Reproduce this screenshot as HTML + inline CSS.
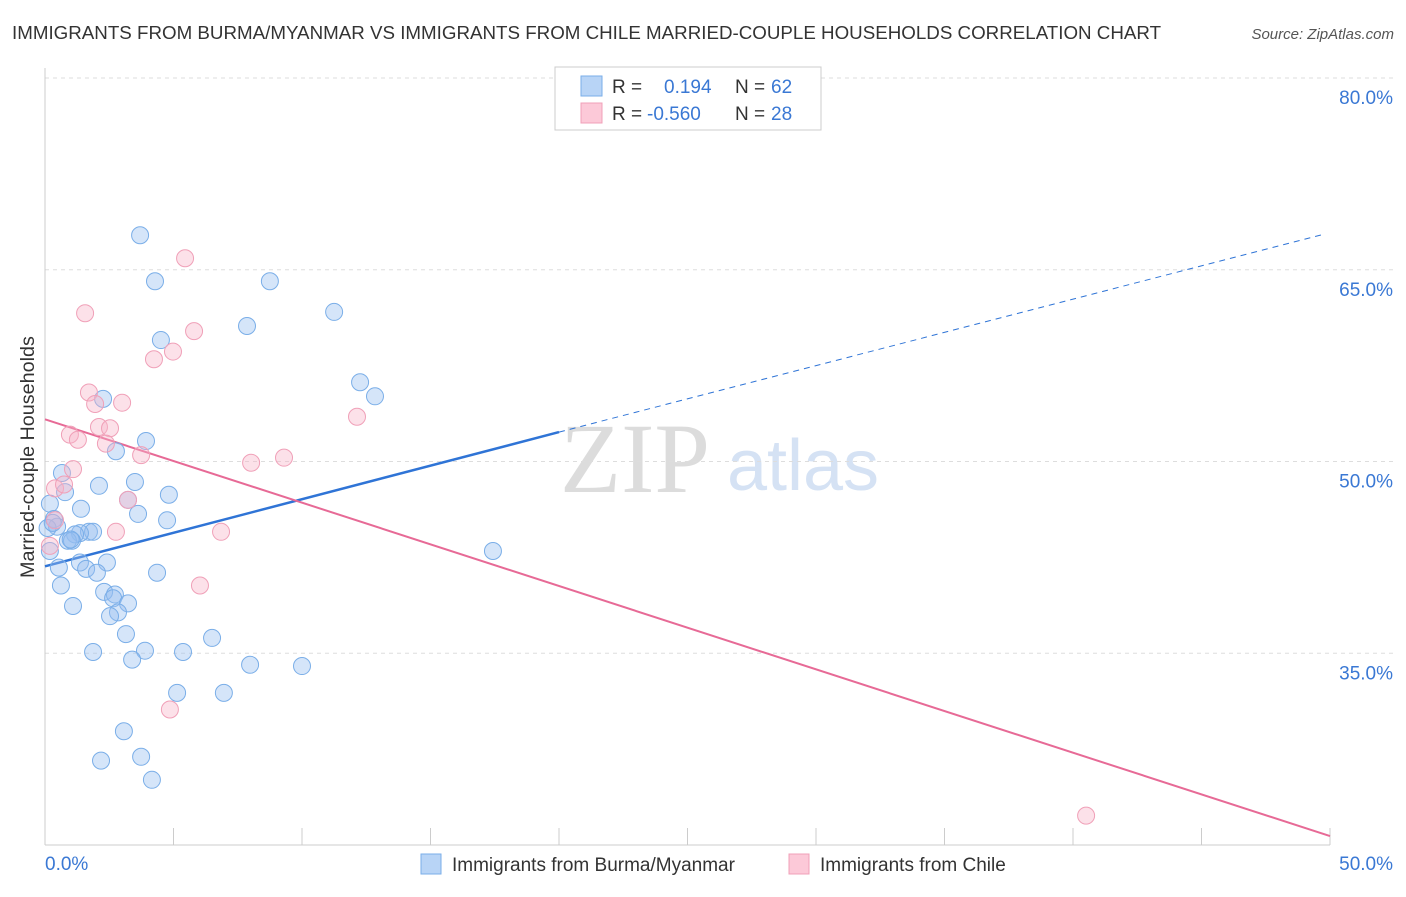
<!DOCTYPE html>
<html><head><meta charset="utf-8"><style>
body{margin:0;background:#fff;font-family:"Liberation Sans",sans-serif;}
svg text{font-family:"Liberation Sans",sans-serif;}
</style></head><body>
<svg id="chart" width="1406" height="892">
<text x="12" y="39" font-size="18.75" fill="#333">IMMIGRANTS FROM BURMA/MYANMAR VS IMMIGRANTS FROM CHILE MARRIED-COUPLE HOUSEHOLDS CORRELATION CHART</text>
<text x="1394" y="39" font-size="15" fill="#555" font-style="italic" text-anchor="end">Source: ZipAtlas.com</text>
<text x="34" y="457" font-size="19.8" fill="#333" text-anchor="middle" transform="rotate(-90 34 457)">Married-couple Households</text>
<g>
<text x="635" y="492" font-size="100" fill="#dcdcdc" text-anchor="middle" style="font-family:'Liberation Serif',serif">ZIP</text>
<text x="803" y="490" font-size="72" fill="#d5e2f4" text-anchor="middle">atlas</text>
</g>
<g id="grid"></g><g id="axes"></g><g id="lines"></g><g id="pts"></g>
<g>
<rect x="555" y="67" width="266" height="63" fill="#fff" stroke="#ccc"/>
<rect x="581" y="76" width="21" height="20" fill="#b8d4f6" stroke="#7aaee8"/>
<rect x="581" y="103" width="21" height="20" fill="#fcc9d8" stroke="#f0a0b8"/>
<text x="612" y="93" font-size="19" fill="#333">R =</text><text x="664" y="93" font-size="19" fill="#3a78d4">0.194</text>
<text x="735" y="93" font-size="19" fill="#333">N =</text><text x="771" y="93" font-size="19" fill="#3a78d4">62</text>
<text x="612" y="120" font-size="19" fill="#333">R =</text><text x="647" y="120" font-size="19" fill="#3a78d4">-0.560</text>
<text x="735" y="120" font-size="19" fill="#333">N =</text><text x="771" y="120" font-size="19" fill="#3a78d4">28</text>
</g>
<g>
<rect x="421" y="854" width="20" height="20" fill="#b8d4f6" stroke="#7aaee8"/>
<text x="452" y="871" font-size="19" fill="#333">Immigrants from Burma/Myanmar</text>
<rect x="789" y="854" width="20" height="20" fill="#fcc9d8" stroke="#f0a0b8"/>
<text x="820" y="871" font-size="19" fill="#333">Immigrants from Chile</text>
</g>
</svg>
<script>
const yTicks=[35,50,65,80];
const xTickLabels=["0.0%","50.0%"];
const burmaX=[3.70,4.28,8.75,11.25,7.86,4.51,12.26,12.84,2.26,3.93,2.76,0.66,0.78,2.10,3.50,4.82,3.23,0.19,1.40,3.62,4.75,0.35,0.47,1.71,1.87,1.36,1.17,0.89,1.05,0.19,17.43,1.36,2.41,0.54,1.60,2.02,4.36,0.62,2.30,2.72,2.65,3.23,1.09,2.84,2.53,3.15,6.50,1.87,3.89,5.37,3.39,7.98,10.0,5.14,6.96,3.07,2.18,3.74,4.16,0.10,0.30,1.00];
const burmaY=[67.7,64.1,64.1,61.7,60.6,59.5,56.2,55.1,54.9,51.6,50.8,49.1,47.6,48.1,48.4,47.4,47.0,46.7,46.3,45.9,45.4,45.5,44.9,44.5,44.5,44.4,44.3,43.8,43.8,43.0,43.0,42.1,42.1,41.7,41.6,41.3,41.3,40.3,39.8,39.6,39.3,38.9,38.7,38.2,37.9,36.5,36.2,35.1,35.2,35.1,34.5,34.1,34.0,31.9,31.9,28.9,26.6,26.9,25.1,44.8,45.2,43.9];
const chileX=[5.45,1.56,5.80,4.98,4.24,1.71,1.95,3.00,12.14,0.97,2.10,2.53,1.28,2.37,1.09,3.74,9.30,8.02,0.39,0.74,3.23,2.76,6.85,0.19,6.03,4.86,40.51,0.39];
const chileY=[65.9,61.6,60.2,58.6,58.0,55.4,54.5,54.6,53.5,52.1,52.7,52.6,51.7,51.4,49.4,50.5,50.3,49.9,47.9,48.2,47.0,44.5,44.5,43.4,40.3,30.6,22.3,45.4];
const burmaTrendX=[0,20,49.8];
const burmaTrendY=[41.8,52.3,67.8];
const chileTrendX=[0,50];
const chileTrendY=[53.3,20.7];
const X0=45,X1=1330,Y80=78,Y20=845;
const sx=v=>X0+(X1-X0)*v/50;
const sy=v=>Y20-(Y20-Y80)*(v-20)/60;
const NS="http://www.w3.org/2000/svg";
function mk(tag,attrs,parent){const e=document.createElementNS(NS,tag);for(const k in attrs)e.setAttribute(k,attrs[k]);document.getElementById(parent).appendChild(e);return e;}
yTicks.forEach(t=>{
 const g=mk("line",{x1:X0,x2:1394,y1:sy(t),y2:sy(t),stroke:"#ddd","stroke-dasharray":"4,4"},"grid");
 
 
 const l=mk("text",{x:1393,y:sy(t)+26,"font-size":19,fill:"#3a78d4","text-anchor":"end"},"grid");
 l.textContent=t.toFixed(1)+"%";
 
 
});
mk("line",{x1:X0,x2:X0,y1:68,y2:Y20,stroke:"#ccc"},"axes");
mk("line",{x1:X0,x2:X1,y1:Y20,y2:Y20,stroke:"#ccc"},"axes");
for(let i=1;i<=10;i++){const x=sx(i*5);const t=mk("line",{x1:x,x2:x,y1:828,y2:Y20,stroke:"#ccc"},"axes");}
const xl0=mk("text",{x:45,y:870,"font-size":19,fill:"#3a78d4"},"axes");xl0.textContent=xTickLabels[0];


const xl1=mk("text",{x:1393,y:870,"font-size":19,fill:"#3a78d4","text-anchor":"end"},"axes");xl1.textContent=xTickLabels[1];


burmaX.forEach((v,i)=>{const c=mk("circle",{cx:sx(v),cy:sy(burmaY[i]),r:8.5,fill:"rgba(150,190,240,0.4)",stroke:"#7aaee8","stroke-width":1},"pts");
 
 });
chileX.forEach((v,i)=>{const c=mk("circle",{cx:sx(v),cy:sy(chileY[i]),r:8.5,fill:"rgba(248,180,200,0.4)",stroke:"#f0a0b8","stroke-width":1},"pts");
 
 });
const bl=mk("line",{x1:sx(burmaTrendX[0]),y1:sy(burmaTrendY[0]),x2:sx(burmaTrendX[1]),y2:sy(burmaTrendY[1]),stroke:"#2f74d6","stroke-width":2.5},"lines");


const bd=mk("line",{x1:sx(burmaTrendX[1]),y1:sy(burmaTrendY[1]),x2:sx(burmaTrendX[2]),y2:sy(burmaTrendY[2]),stroke:"#2f74d6","stroke-width":1,"stroke-dasharray":"6,5"},"lines");


const cl=mk("line",{x1:sx(chileTrendX[0]),y1:sy(chileTrendY[0]),x2:sx(chileTrendX[1]),y2:sy(chileTrendY[1]),stroke:"#e76a96","stroke-width":2},"lines");


</script>
</body></html>
